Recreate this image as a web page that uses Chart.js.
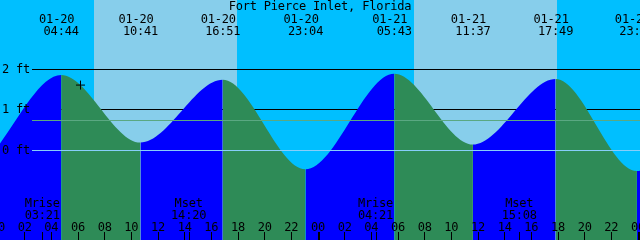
<!DOCTYPE html>
<html>
<head>
<meta charset="utf-8">
<title>Fort Pierce Inlet, Florida</title>
<script src="https://cdn.jsdelivr.net/npm/chart.js@4.4.1/dist/chart.umd.min.js"></script>
<style>
  html, body { margin: 0; padding: 0; background: #00bfff; }
  canvas { display: block; }
</style>
</head>
<body>
<canvas id="tideChart" width="640" height="240"></canvas>
<script>
const station = 'Fort Pierce Inlet, Florida';

// high and low tides shown on the graph (local time, feet)
const tideStamps = ['01-20 04:44', '01-20 10:41', '01-20 16:51', '01-20 23:04',
                    '01-21 05:43', '01-21 11:37', '01-21 17:49', '01-21 23:55'];
const tideFeet = [1.86, 0.19, 1.74, -0.47, 1.89, 0.14, 1.76, -0.51];

// tides just outside the window so the curve runs in and out of the edges
const edgeStamps = ['01-19 15:35', '01-19 21:47', '01-22 06:30'];
const edgeFeet = [1.75, -0.45, 1.90];

const moonEvents = ['Mrise', 'Mset', 'Mrise', 'Mset'];
const moonStamps = ['01-20 03:21', '01-20 14:20', '01-21 04:21', '01-21 15:08'];

const sunriseStamps = ['01-20 07:12', '01-21 07:12'];
const sunsetStamps = ['01-20 17:55', '01-21 17:55'];

const depthFeet = [2, 1, 0];
const depthLabels = ['2 ft', '1 ft', '0 ft'];
const meanSeaLevel = 0.74;

const nowStamp = '01-20 06:11';
const nowFeet = 1.61;

const hourTicks = [0, 2, 4, 6, 8, 10, 12, 14, 16, 18, 20, 22,
                   24, 26, 28, 30, 32, 34, 36, 38, 40, 42, 44, 46, 48];
const hourLabels = ['00', '02', '04', '06', '08', '10', '12', '14', '16', '18', '20', '22',
                    '00', '02', '04', '06', '08', '10', '12', '14', '16', '18', '20', '22', '00'];

const colors = {
    night: '#00bfff',
    day: '#87ceeb',
    rise: '#0000ff',
    fall: '#2e8b57',
    msl: '#5aa882',
    datum: '#87cefa',
    ink: '#000000'
};

// hours counted from 01-20 00:00
function toHours(stamp) {
    const [md, hm] = stamp.split(' ');
    const day = parseInt(md.slice(3), 10);
    const [h, m] = hm.split(':').map(Number);
    return (day - 20) * 24 + h + m / 60;
}

const tidePoints = tideStamps.map((s, i) => ({ x: toHours(s), y: tideFeet[i] }))
    .concat(edgeStamps.map((s, i) => ({ x: toHours(s), y: edgeFeet[i] })))
    .sort((a, b) => a.x - b.x);

const FONT = '12px "DejaVu Sans Mono", "Liberation Mono", monospace';

function text(ctx, str, x, y, align) {
    ctx.textAlign = align || 'center';
    ctx.fillText(str, x, y);
}

// sky bands and the depth lines that sit behind the water
const backdrop = {
    id: 'backdrop',
    beforeDraw(chart) {
        const { ctx, scales: { x, y }, width, height } = chart;
        ctx.save();
        ctx.fillStyle = colors.night;
        ctx.fillRect(0, 0, width, height);
        ctx.fillStyle = colors.day;
        sunriseStamps.forEach((s, i) => {
            const x1 = Math.round(x.getPixelForValue(toHours(s)));
            const x2 = Math.round(x.getPixelForValue(toHours(sunsetStamps[i])));
            ctx.fillRect(x1, 0, x2 - x1, height);
        });
        ctx.strokeStyle = colors.ink;
        ctx.lineWidth = 1;
        depthFeet.slice(0, 2).forEach(f => {
            const py = Math.floor(y.getPixelForValue(f)) + 0.5;
            ctx.beginPath();
            ctx.moveTo(32, py);
            ctx.lineTo(width, py);
            ctx.stroke();
        });
        ctx.restore();
    }
};

// datum lines, labels and ticks drawn over the water
const overlay = {
    id: 'overlay',
    afterDatasetsDraw(chart) {
        const { ctx, scales: { x, y }, width, height } = chart;
        ctx.save();
        ctx.lineWidth = 1;

        const mslY = Math.floor(y.getPixelForValue(meanSeaLevel)) + 0.5;
        ctx.strokeStyle = colors.msl;
        ctx.beginPath(); ctx.moveTo(32, mslY); ctx.lineTo(width, mslY); ctx.stroke();

        const zeroY = Math.floor(y.getPixelForValue(0)) + 0.5;
        ctx.strokeStyle = colors.datum;
        ctx.beginPath(); ctx.moveTo(32, zeroY); ctx.lineTo(width, zeroY); ctx.stroke();

        ctx.fillStyle = colors.ink;
        ctx.font = FONT;
        ctx.letterSpacing = '-0.2px';
        ctx.textBaseline = 'alphabetic';

        depthFeet.forEach((f, i) => {
            text(ctx, depthLabels[i], 2, Math.floor(y.getPixelForValue(f)) + 4, 'left');
        });

        text(ctx, station, 320, 10);

        tideStamps.forEach(s => {
            const tx = x.getPixelForValue(toHours(s));
            const [md, hm] = s.split(' ');
            text(ctx, md, tx - 4.5, 23);
            text(ctx, hm, tx, 34.5);
        });

        hourTicks.forEach((h, i) => {
            const tx = x.getPixelForValue(h);
            text(ctx, hourLabels[i], tx, 230.5);
            if (h % 24 === 0) {
                ctx.fillRect(Math.floor(tx), 232, 2, 8);
            } else {
                ctx.fillRect(Math.floor(tx), 232, 1, 8);
            }
        });

        moonStamps.forEach((s, i) => {
            const tx = x.getPixelForValue(toHours(s));
            text(ctx, moonEvents[i], tx - 0.5, 207);
            text(ctx, s.split(' ')[1], tx - 0.5, 219);
            ctx.fillRect(Math.floor(tx), 232, 1, 8);
        });

        ctx.restore();
    }
};

const ctx = document.getElementById('tideChart').getContext('2d');
const tideChart = new Chart(ctx, {
    type: 'line',
    data: {
        datasets: [
            {
                label: 'now',
                data: [{ x: toHours(nowStamp), y: nowFeet }],
                showLine: false,
                pointStyle: 'cross',
                pointRadius: 4.5,
                pointBorderWidth: 1,
                borderColor: colors.ink,
                order: 0
            },
            {
                label: 'tide',
                data: tidePoints,
                fill: 'start',
                cubicInterpolationMode: 'monotone',
                pointRadius: 0,
                borderWidth: 0,
                borderColor: 'rgba(0,0,0,0)',
                backgroundColor: colors.rise,
                segment: {
                    backgroundColor: c => c.p1.parsed.y > c.p0.parsed.y ? colors.rise : colors.fall
                },
                order: 1
            }
        ]
    },
    options: {
        responsive: false,
        animation: false,
        devicePixelRatio: 1,
        layout: { padding: 0, autoPadding: false },
        scales: {
            x: { type: 'linear', min: 0.147, max: 48.147, display: false },
            y: { type: 'linear', min: -2.215, max: 3.711, display: false }
        },
        plugins: {
            legend: { display: false },
            tooltip: { enabled: false }
        }
    },
    plugins: [backdrop, overlay]
});
</script>
</body>
</html>
